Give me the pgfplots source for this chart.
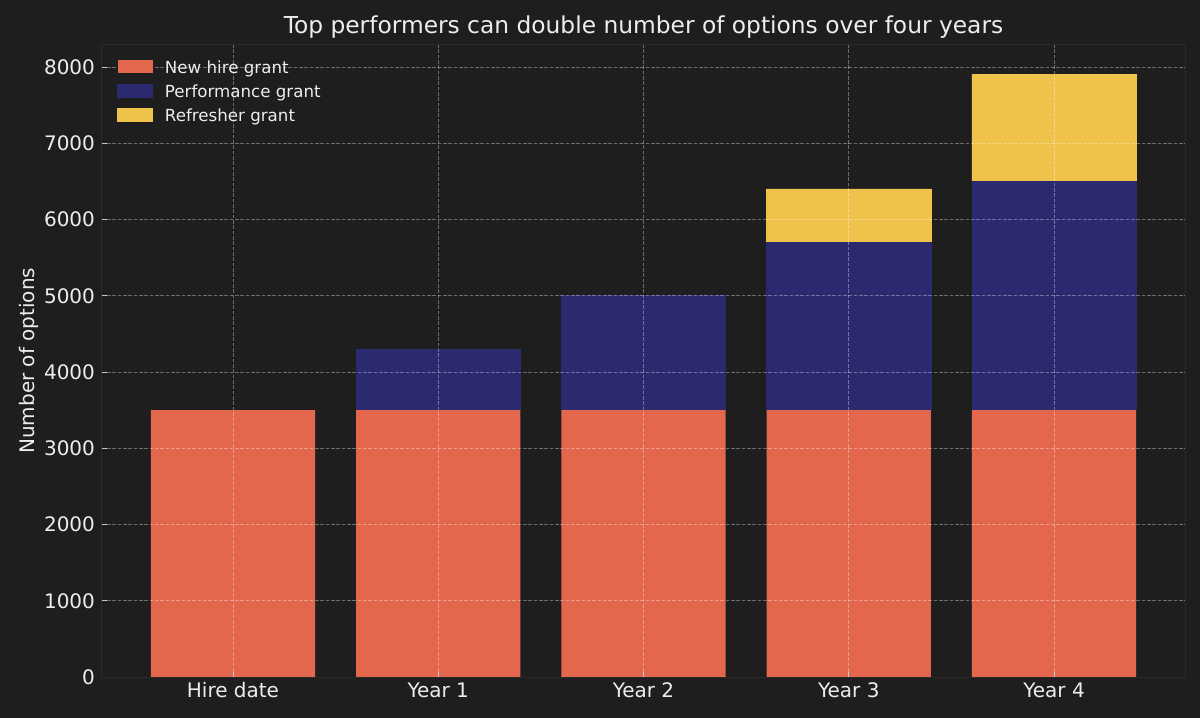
\documentclass[border=0pt]{standalone}
\usepackage{fontspec}
\setmainfont{DejaVu Sans}
\usepackage{pgfplots}
\pgfplotsset{compat=1.18}
\definecolor{bg}{HTML}{1E1E1E}
\definecolor{fg}{HTML}{EDEDED}
\definecolor{cNew}{HTML}{E2674D}
\definecolor{cPerf}{HTML}{2C2A6E}
\definecolor{cRef}{HTML}{EEC24B}
\definecolor{spine}{HTML}{2A2A2A}
\begin{document}
\begin{tikzpicture}
\fill[bg] (-60.96pt,-24.6pt) rectangle (659.04pt,406.2pt);
\useasboundingbox (-60.96pt,-24.6pt) rectangle (659.04pt,406.2pt);
\begin{axis}[
  at={(0pt,0pt)}, anchor=south west,
  scale only axis, width=650.28pt, height=379.5pt,
  ybar stacked, bar width=0.8,
  xmin=-0.64, xmax=4.64, ymin=0, ymax=8295,
  xtick={0,1,2,3,4},
  xticklabels={Hire date, Year 1, Year 2, Year 3, Year 4},
  ytick={0,1000,...,8000},
  axis on top,
  axis line style={spine, line width=0.5pt},
  tick style={color=fg!85!black, line width=0.5pt},
  tick align=inside, major tick length=3pt,
  xtick pos=bottom, ytick pos=left,
  grid=major,
  major grid style={white, opacity=0.35, line width=0.45pt, dash pattern=on 2.2pt off 1pt},
  ticklabel style={font=\fontsize{12}{14}\selectfont, text=fg, inner sep=0pt},
  yticklabel style={anchor=east, xshift=-3.8pt},
  xticklabel style={anchor=base, yshift=-12.6pt},
  /pgf/number format/assume math mode=true,
  /pgf/number format/1000 sep={},
  ylabel={Number of options},
  ylabel style={font=\fontsize{12}{14}\selectfont, text=fg, at={(axis description cs:0,0.5)}, anchor=base, yshift=40pt, inner sep=0pt},
  title={Top performers can double number of options over four years},
  title style={font=\fontsize{14}{17}\selectfont, text=fg, at={(axis description cs:0.5,1)}, anchor=base, yshift=0.7pt, inner sep=0pt},
  legend image code/.code={\fill[#1] (0pt,-3.9pt) rectangle (21pt,3.9pt);},
  legend style={at={(axis description cs:0.0142,0.9265)}, anchor=west, draw=none, fill=none, inner sep=0pt,
    font=\fontsize{10}{12}\selectfont, text=fg, row sep=0pt,
    nodes={inner sep=0pt, text height=10.85pt, text depth=3.55pt}},
  legend cell align=left,
  legend style={/tikz/every odd column/.style={column sep=7.2pt}},
]
\addplot+[fill=cNew, draw=none] coordinates {(0,3500) (1,3500) (2,3500) (3,3500) (4,3500)};
\addlegendentry{New hire grant}
\addplot+[fill=cPerf, draw=cPerf, line width=0.3pt] coordinates {(0,0) (1,800) (2,1500) (3,2200) (4,3000)};
\addlegendentry{Performance grant}
\addplot+[fill=cRef, draw=cRef, line width=0.4pt] coordinates {(0,0) (1,0) (2,0) (3,700) (4,1400)};
\addlegendentry{Refresher grant}
\end{axis}
\end{tikzpicture}
\end{document}
